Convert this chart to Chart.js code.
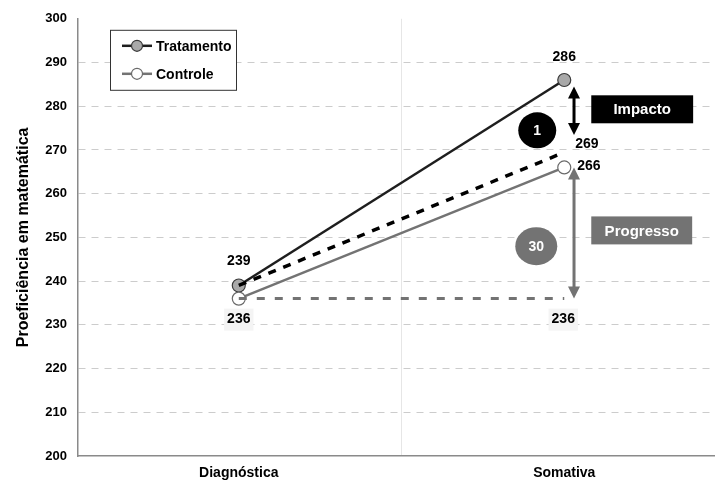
<!DOCTYPE html>
<html>
<head>
  <title>Proficiência em matemática</title>
  <script src="https://cdn.jsdelivr.net/npm/chart.js@4.4.0/dist/chart.umd.min.js"></script>
  <style>
    body { margin: 0; padding: 0; background: #fff; overflow: hidden; }
    #wrap { width: 715px; height: 488px; overflow: hidden; }
  </style>
</head>
<body>
  <div id="wrap"><canvas id="grafico" width="722" height="488"></canvas></div>

  <script>
    // dados
    const categorias = ['Diagnóstica', 'Somativa'];
    const tratamento = [239, 286];
    const controle = [236, 266];
    const contrafactual = [239, 269];   // linha tracejada preta
    const baseControle = [236, 236];    // linha tracejada cinza
    const eixoY = [200, 210, 220, 230, 240, 250, 260, 270, 280, 290, 300];
    const impacto = 1;
    const progresso = 30;

    const escuro = '#1e1e1e';
    const cinza = '#737373';
    const fonte = 'Arial, "Liberation Sans", sans-serif';

    function pontos(valores) {
      return valores.map((v, i) => ({ x: i, y: v }));
    }

    // desenha legenda, setas, rotulos e caixas
    const anotacoes = {
      id: 'anotacoes',
      afterDatasetsDraw(chart) {
        const ctx = chart.ctx;
        const xs = chart.scales.x, ys = chart.scales.y;
        const area = chart.chartArea;
        const px = v => xs.getPixelForValue(v);
        const py = v => ys.getPixelForValue(v);
        ctx.save();

        // setas duplas
        function seta(x, y1, y2, cor) {
          const a = px(x), b = py(y1), c = py(y2);
          ctx.strokeStyle = cor; ctx.fillStyle = cor; ctx.lineWidth = 3;
          ctx.beginPath(); ctx.moveTo(a, b + 8); ctx.lineTo(a, c - 8); ctx.stroke();
          ctx.beginPath(); ctx.moveTo(a, b); ctx.lineTo(a - 6, b + 12); ctx.lineTo(a + 6, b + 12); ctx.closePath(); ctx.fill();
          ctx.beginPath(); ctx.moveTo(a, c); ctx.lineTo(a - 6, c - 12); ctx.lineTo(a + 6, c - 12); ctx.closePath(); ctx.fill();
        }
        seta(1.03, tratamento[1] - 1.5, contrafactual[1] + 4.4, '#000');
        seta(1.03, controle[1], baseControle[1], cinza);

        // rotulos de valores
        ctx.font = 'bold 14px ' + fonte;
        ctx.fillStyle = '#000';
        ctx.textBaseline = 'middle';
        function rotulo(txt, x, y, dx, dy, alin, fundo) {
          const a = px(x) + dx, b = py(y) + dy;
          ctx.textAlign = alin;
          if (fundo) {
            const w = ctx.measureText(txt).width;
            ctx.fillStyle = '#f4f4f4';
            ctx.fillRect(a - w / 2 - 3, b - 11, w + 6, 22);
            ctx.fillStyle = '#000';
          }
          ctx.fillText(txt, a, b);
        }
        rotulo(String(tratamento[1]), 1, tratamento[1], 0, -23, 'center');
        rotulo(String(contrafactual[1]), 1, contrafactual[1], 11, -10, 'left');
        rotulo(String(controle[1]), 1, controle[1], 13, -1, 'left');
        rotulo(String(tratamento[0]), 0, tratamento[0], 0, -24, 'center');
        rotulo(String(controle[0]), 0, controle[0], 0, 21, 'center', true);
        rotulo(String(baseControle[1]), 1, baseControle[1], -1, 21, 'center', true);

        // elipses com numeros
        function elipse(txt, x, y, rx, ry, cor) {
          ctx.fillStyle = cor;
          ctx.beginPath(); ctx.ellipse(px(x), py(y), rx, ry, 0, 0, Math.PI * 2); ctx.fill();
          ctx.fillStyle = '#fff'; ctx.textAlign = 'center';
          ctx.font = 'bold 14px ' + fonte;
          ctx.fillText(txt, px(x), py(y) + 1);
        }
        elipse(String(impacto), 0.917, 274.5, 19, 18, '#000');
        elipse(String(progresso), 0.914, 248, 21, 19, cinza);

        // caixas de texto
        function caixa(txt, x1, x2, y1, y2, cor) {
          const a = px(x1), b = py(y1), w = px(x2) - a, h = py(y2) - b;
          ctx.fillStyle = cor; ctx.fillRect(a, b, w, h);
          ctx.fillStyle = '#fff'; ctx.textAlign = 'center';
          ctx.font = 'bold 15px ' + fonte;
          ctx.fillText(txt, a + w / 2, b + h / 2 + 1);
        }
        caixa('Impacto', 1.083, 1.396, 282.5, 276.1, '#000');
        caixa('Progresso', 1.083, 1.393, 254.8, 248.4, cinza);

        // legenda
        const lx = area.left + 32, ly = py(300) + 11;
        ctx.fillStyle = '#fff';
        ctx.fillRect(lx, ly, 126, 60);
        ctx.strokeStyle = '#333'; ctx.lineWidth = 1;
        ctx.strokeRect(lx + 0.5, ly + 0.5, 126, 60);
        const itens = [
          { nome: 'Tratamento', linha: escuro, fundo: '#a9a9a9', borda: '#3a3a3a' },
          { nome: 'Controle', linha: cinza, fundo: '#fff', borda: '#6a6a6a' }
        ];
        itens.forEach((it, i) => {
          const y = ly + 16 + i * 28;
          ctx.strokeStyle = it.linha; ctx.lineWidth = 2.5;
          ctx.beginPath(); ctx.moveTo(lx + 12, y); ctx.lineTo(lx + 42, y); ctx.stroke();
          ctx.fillStyle = it.fundo; ctx.strokeStyle = it.borda; ctx.lineWidth = 1.2;
          ctx.beginPath(); ctx.arc(lx + 27, y, 5.5, 0, Math.PI * 2); ctx.fill(); ctx.stroke();
          ctx.fillStyle = '#000'; ctx.textAlign = 'left';
          ctx.font = 'bold 14px ' + fonte;
          ctx.fillText(it.nome, lx + 46, y + 1);
        });
        ctx.restore();
      }
    };

    new Chart(document.getElementById('grafico'), {
      type: 'line',
      data: {
        datasets: [
          {
            label: 'base',
            data: pontos(baseControle),
            borderColor: cinza, borderWidth: 3, borderDash: [8, 10],
            pointRadius: 0
          },
          {
            label: 'contrafactual',
            data: [{ x: 0, y: contrafactual[0] }, { x: 0.985, y: contrafactual[1] }],
            borderColor: '#000', borderWidth: 3.5, borderDash: [8, 8],
            pointRadius: 0
          },
          {
            label: 'Controle',
            data: pontos(controle),
            borderColor: cinza, borderWidth: 2.5,
            pointRadius: 6.5, pointBackgroundColor: '#fff',
            pointBorderColor: '#6a6a6a', pointBorderWidth: 1.2
          },
          {
            label: 'Tratamento',
            data: pontos(tratamento),
            borderColor: escuro, borderWidth: 2.5,
            pointRadius: 6.5, pointBackgroundColor: '#a9a9a9',
            pointBorderColor: '#3a3a3a', pointBorderWidth: 1.2
          }
        ]
      },
      options: {
        responsive: false,
        animation: false,
        layout: { padding: { top: 14, right: 0, left: 0, bottom: 0 } },
        plugins: { legend: { display: false }, tooltip: { enabled: false } },
        scales: {
          x: {
            type: 'linear',
            min: -0.494, max: 1.461,
            afterBuildTicks: s => { s.ticks = [{ value: 0 }, { value: 0.5 }, { value: 1 }]; },
            afterFit: s => { s.height = 32; s.paddingLeft = 0; s.paddingRight = 0; },
            ticks: {
              callback: v => (v === 0 ? categorias[0] : v === 1 ? categorias[1] : ''),
              color: '#000', padding: 9,
              font: { family: fonte, size: 14, weight: 'bold' },
              maxRotation: 0, autoSkip: false
            },
            grid: {
              drawTicks: false,
              color: c => (c.tick && c.tick.value === 0.5 ? '#e6e6e6' : 'rgba(0,0,0,0)'),
              lineWidth: 1
            },
            border: { display: true, color: '#8a8a8a', width: 1.5 }
          },
          y: {
            min: 200, max: 300,
            afterBuildTicks: s => { s.ticks = eixoY.map(v => ({ value: v })); },
            afterFit: s => { s.width = 78; },
            ticks: {
              color: '#000', padding: 11,
              font: { family: fonte, size: 13, weight: 'bold' }
            },
            grid: {
              drawTicks: false,
              color: c => (c.tick && (c.tick.value === 200 || c.tick.value === 300) ? 'rgba(0,0,0,0)' : '#cccccc'),
              lineWidth: 1
            },
            border: { display: true, color: '#8a8a8a', width: 1.5, dash: [7, 6] },
            title: {
              display: true,
              text: 'Proeficiência em matemática',
              color: '#000',
              font: { family: fonte, size: 16, weight: 'bold' },
              padding: { top: 14, bottom: 0 }
            }
          }
        }
      },
      plugins: [anotacoes]
    });
  </script>
</body>
</html>
